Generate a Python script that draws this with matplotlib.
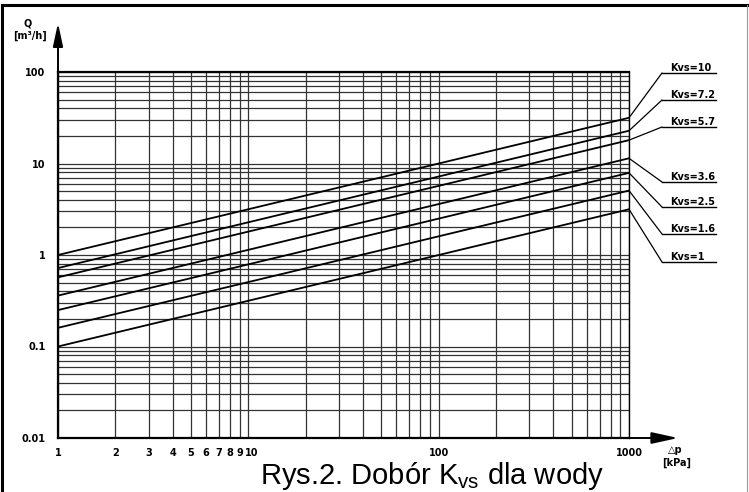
import matplotlib
matplotlib.use('Agg')
import matplotlib.pyplot as plt
from matplotlib.lines import Line2D
import matplotlib.transforms as mtransforms

# Kvs lines (Q at dp = 1 kPa and at dp = 1000 kPa)
kvs_labels = ['Kvs=10', 'Kvs=7.2', 'Kvs=5.7', 'Kvs=3.6', 'Kvs=2.5', 'Kvs=1.6', 'Kvs=1']
dp_ends = [1, 1000]
q_start = [1.0, 0.72, 0.57, 0.36, 0.25, 0.16, 0.1]
q_end = [31.6, 22.8, 18.0, 11.4, 7.9, 5.06, 3.16]

x_ticks = [1, 2, 3, 4, 5, 6, 7, 8, 9, 10, 100, 1000]
x_ticklabels = ['1', '2', '3', '4', '5', '6', '7', '8', '9', '10', '100', '1000']
y_ticks = [0.01, 0.1, 1, 10, 100]
y_ticklabels = ['0.01', '0.1', '1', '10', '100']

W, H = 749, 492
plt.rcParams['mathtext.fontset'] = 'custom'
plt.rcParams['mathtext.rm'] = 'Liberation Sans'

fig = plt.figure(figsize=(W / 100, H / 100), dpi=100)
ax = fig.add_axes([58 / W, 1 - 438 / H, (629 - 58) / W, (438 - 72) / H])
ax.set_xscale('log')
ax.set_yscale('log')
ax.set_xlim(1, 1000)
ax.set_ylim(0.01, 100)

small = dict(family='DejaVu Sans', fontweight='bold', fontsize=7)

ax.set_xticks(x_ticks)
ax.set_xticklabels(x_ticklabels, **small)
ax.set_yticks(y_ticks)
ax.set_yticklabels(y_ticklabels, **small)
ax.tick_params(which='both', length=0)
ax.tick_params(axis='x', pad=7)
ax.tick_params(axis='y', pad=9)
ax.grid(True, which='both', color='0.2', lw=0.9)

# nudge the crowded "10" label a little to the right
lbl10 = ax.get_xticklabels()[x_ticklabels.index('10')]
lbl10.set_transform(lbl10.get_transform() +
                    mtransforms.ScaledTranslation(3 / 100, 0, fig.dpi_scale_trans))

for s in ['left', 'bottom', 'top']:
    ax.spines[s].set_linewidth(1.6)
ax.spines['right'].set_linewidth(1.0)

for qs, qe in zip(q_start, q_end):
    ax.plot(dp_ends, [qs, qe], color='black', lw=1.3, zorder=3)

# axis arrows
ax.annotate('', xy=(0, 1.134), xycoords='axes fraction', xytext=(0, 1.0),
            arrowprops=dict(arrowstyle='-|>,head_length=1.4,head_width=0.3',
                            color='black', lw=1.4, shrinkA=0, shrinkB=0),
            annotation_clip=False)
ax.annotate('', xy=(1.086, 0), xycoords='axes fraction', xytext=(1.0, 0),
            arrowprops=dict(arrowstyle='-|>,head_length=1.6,head_width=0.35',
                            color='black', lw=1.4, shrinkA=0, shrinkB=0),
            annotation_clip=False)

# axis titles
fig.text(28 / W, 1 - 23 / H, 'Q', ha='center', va='center', **small)
fig.text(30 / W, 1 - 36 / H, '[m³/h]', ha='center', va='center', **small)
fig.text(675 / W, 1 - 450 / H, '△p', ha='center', va='center', **small)
fig.text(677 / W, 1 - 463 / H, '[kPa]', ha='center', va='center', **small)

# Kvs labels with leader lines
label_y = [73, 100, 127, 182, 207, 234, 262]
for lab, qe, ly in zip(kvs_labels, q_end, label_y):
    ax.annotate('', xy=(1000, qe), xycoords='data',
                xytext=(662, H - ly), textcoords='figure pixels',
                arrowprops=dict(arrowstyle='-', color='black', lw=0.9,
                                shrinkA=0, shrinkB=0),
                annotation_clip=False)
    fig.add_artist(Line2D([662 / W, 716 / W], [1 - ly / H] * 2, color='black', lw=1.0))
    fig.text(670 / W, 1 - (ly - 2) / H, lab, ha='left', va='baseline', **small)

# outer frame
fig.add_artist(Line2D([2 / W, 2 / W], [0, 1 - 5 / H], color='black', lw=2.2))
fig.add_artist(Line2D([2 / W, 747 / W], [1 - 5 / H] * 2, color='black', lw=2.2))
fig.add_artist(Line2D([747 / W, 747 / W], [0, 1 - 5 / H], color='0.6', lw=0.8))

fig.text(432 / W, 8 / H, r'Rys.2. Dobór K$_{\mathrm{vs}}$ dla wody', ha='center',
         va='baseline', family='Liberation Sans', fontsize=21)

fig.savefig('out.png', dpi=100)
